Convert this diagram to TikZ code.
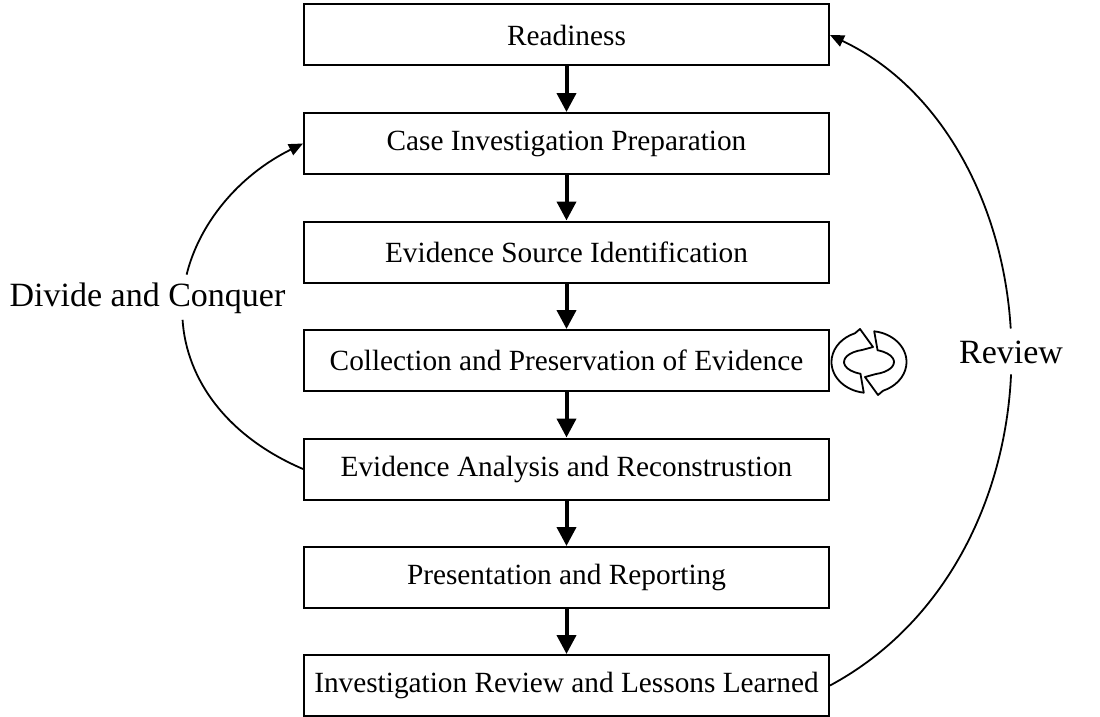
\documentclass[tikz,border=0pt]{standalone}
\usepackage{fontspec}
\setmainfont{Liberation Serif}
\usetikzlibrary{arrows.meta}
\begin{document}
\begin{tikzpicture}[x=1pt,y=1pt,
  stepbox/.style={draw=black,line width=2pt,minimum width=525pt,minimum height=61pt,
    inner sep=0pt,font=\fontsize{29.3}{32}\selectfont,anchor=center},
  flow/.style={line width=4pt,-{Triangle[length=19pt,width=19pt]}},
  sidelabel/.style={font=\fontsize{34}{38}\selectfont,inner sep=3pt}]
\useasboundingbox (0,0) rectangle (1100,-717);
\node[stepbox] (b1) at (566.5,-35) {Readiness};
\node[stepbox] (b2) at (566.5,-143.5) {Case Investigation Preparation};
\node[stepbox] (b3) at (566.5,-252) {Evidence Source Identification};
\node[stepbox] (b4) at (566.5,-360.5) {Collection and Preservation of Evidence};
\node[stepbox] (b5) at (566.5,-469) {Evidence Analysis and Reconstrustion};
\node[stepbox] (b6) at (566.5,-577.5) {Presentation and Reporting};
\node[stepbox] (b7) at (566.5,-685.5) {Investigation Review and Lessons Learned};
\foreach \a/\b in {b1/b2,b2/b3,b3/b4,b4/b5,b5/b6,b6/b7}
  \draw[flow] (\a.south) -- (\b.north);
\node[sidelabel] (dc) at (147.5,-298) {Divide and Conquer};
\node[sidelabel] (rv) at (1011,-352) {Review};
% Divide and Conquer loop (b5 -> b2), interrupted by its label
\begin{scope}[line width=1.8pt]
  \pgfpathcurvebetweentime{0}{0.475}{\pgfpointanchor{b5}{west}}
    {\pgfpointadd{\pgfpointanchor{b5}{west}}{\pgfpoint{-161pt}{69pt}}}
    {\pgfpointadd{\pgfpointanchor{b2}{west}}{\pgfpoint{-161pt}{-80pt}}}
    {\pgfpointanchor{b2}{west}}
  \pgfusepath{stroke}
\end{scope}
\begin{scope}[line width=1.8pt]
  \pgfsetarrowsend{Triangle[length=14pt,width=12pt]}
  \pgfpathcurvebetweentime{0.595}{1}{\pgfpointanchor{b5}{west}}
    {\pgfpointadd{\pgfpointanchor{b5}{west}}{\pgfpoint{-161pt}{69pt}}}
    {\pgfpointadd{\pgfpointanchor{b2}{west}}{\pgfpoint{-161pt}{-80pt}}}
    {\pgfpointanchor{b2}{west}}
  \pgfusepath{stroke}
\end{scope}
% Review loop (b7 -> b1), interrupted by its label
\begin{scope}[line width=1.8pt]
  \pgfpathcurvebetweentime{0}{0.475}{\pgfpointanchor{b7}{east}}
    {\pgfpointadd{\pgfpointanchor{b7}{east}}{\pgfpoint{242pt}{130pt}}}
    {\pgfpointadd{\pgfpointanchor{b1}{east}}{\pgfpoint{242pt}{-115pt}}}
    {\pgfpointanchor{b1}{east}}
  \pgfusepath{stroke}
\end{scope}
\begin{scope}[line width=1.8pt]
  \pgfsetarrowsend{Triangle[length=14pt,width=12pt]}
  \pgfpathcurvebetweentime{0.533}{1}{\pgfpointanchor{b7}{east}}
    {\pgfpointadd{\pgfpointanchor{b7}{east}}{\pgfpoint{242pt}{130pt}}}
    {\pgfpointadd{\pgfpointanchor{b1}{east}}{\pgfpoint{242pt}{-115pt}}}
    {\pgfpointanchor{b1}{east}}
  \pgfusepath{stroke}
\end{scope}
% cycle icon
\begin{scope}[shift={(869,-362)},line width=1.8pt,line join=round]
  \filldraw[fill=white] (262:37.5 and 31) arc[start angle=262,end angle=112,x radius=37.5pt,y radius=31pt]
    -- (-9,33) -- (4,15) -- (106:25 and 12.5)
    arc[start angle=106,end angle=250,x radius=25pt,y radius=12.5pt] -- cycle;
  \filldraw[fill=white] (82:37.5 and 31) arc[start angle=82,end angle=-68,x radius=37.5pt,y radius=31pt]
    -- (9,-33) -- (-4,-15) -- (-74:25 and 12.5)
    arc[start angle=-74,end angle=70,x radius=25pt,y radius=12.5pt] -- cycle;
\end{scope}
\end{tikzpicture}
\end{document}
